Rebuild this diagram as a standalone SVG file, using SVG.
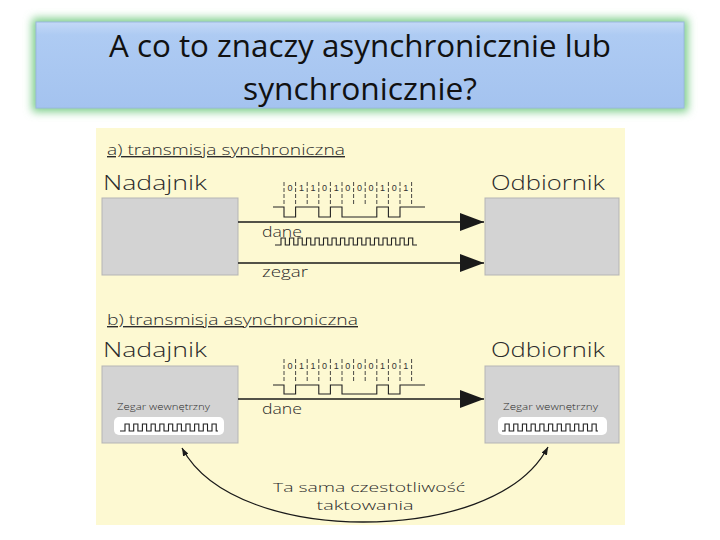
<svg xmlns="http://www.w3.org/2000/svg" width="720" height="540" viewBox="0 0 720 540">
<defs>
<linearGradient id="tg" x1="0" y1="0" x2="0" y2="1">
<stop offset="0" stop-color="#c4d9f7"/>
<stop offset="0.15" stop-color="#aecbf3"/>
<stop offset="1" stop-color="#a4c3ef"/>
</linearGradient>
<filter id="glow" x="-10%" y="-30%" width="120%" height="160%">
<feGaussianBlur stdDeviation="4"/>
</filter>
<marker id="big" viewBox="0 0 24 18" refX="24" refY="9" markerWidth="24" markerHeight="18" markerUnits="userSpaceOnUse" orient="auto">
<path d="M0,0 L24,9 L0,18 Z" fill="#1a1a1a"/>
</marker>
<marker id="small" viewBox="0 0 8 6" refX="8" refY="3" markerWidth="8" markerHeight="6" markerUnits="userSpaceOnUse" orient="auto-start-reverse">
<path d="M0,0 L8,3 L0,6 Z" fill="#1a1a1a"/>
</marker>
</defs>
<style>
.t{font-family:"Open Sans","DejaVu Sans",sans-serif;font-weight:300;fill:#2b2b2b}
.title{font-family:"Open Sans","Noto Sans",sans-serif;font-size:31px;fill:#111;text-anchor:middle}
.box{fill:#d3d3d3;stroke:#b5b5b5;stroke-width:1}
.wire{stroke:#1a1a1a;stroke-width:1.3;fill:none}
.wave{stroke:#222;stroke-width:1.1;fill:none}
.tick{stroke:#333;stroke-width:0.9;stroke-dasharray:4 2}
.bit{font-family:"Liberation Sans",Arial,sans-serif;font-size:9px;fill:#333;text-anchor:middle}
.clkbg{fill:#ffffff}
</style>
<rect width="720" height="540" fill="#ffffff"/>
<g id="title">
<rect x="32" y="18" width="656" height="94" rx="3" fill="#7fcf8c" filter="url(#glow)"/>
<rect x="36" y="22" width="648" height="86" fill="url(#tg)" stroke="#9ab8e0" stroke-width="1"/>
<text class="title" x="360" y="57" textLength="502" lengthAdjust="spacingAndGlyphs">A co to znaczy asynchronicznie lub</text>
<text class="title" x="360" y="100" textLength="234" lengthAdjust="spacingAndGlyphs">synchronicznie?</text>
</g>
<rect x="96" y="128" width="529" height="397" fill="#fdf9d2"/>
<g id="section-a">
<text class="t" x="107" y="155" font-size="14" text-decoration="underline" textLength="238" lengthAdjust="spacingAndGlyphs">a) transmisja synchroniczna</text>
</g>
<g id="nadajnik-a">
<text class="t" x="103" y="190" font-size="20" textLength="104" lengthAdjust="spacingAndGlyphs">Nadajnik</text>
<rect class="box" x="102" y="198" width="136" height="77"/>
</g>
<g id="odbiornik-a">
<text class="t" x="491" y="190" font-size="20" textLength="114" lengthAdjust="spacingAndGlyphs">Odbiornik</text>
<rect class="box" x="485" y="198" width="134" height="77"/>
</g>
<g id="section-b">
<text class="t" x="107" y="325" font-size="14" text-decoration="underline" textLength="251" lengthAdjust="spacingAndGlyphs">b) transmisja asynchroniczna</text>
</g>
<g id="nadajnik-b">
<text class="t" x="103" y="357" font-size="20" textLength="104" lengthAdjust="spacingAndGlyphs">Nadajnik</text>
<rect class="box" x="102" y="366" width="136" height="77"/>
<text class="t" x="117" y="410" font-size="9" textLength="93" lengthAdjust="spacingAndGlyphs">Zegar wewnętrzny</text>
<rect class="clkbg" x="114" y="417" width="110" height="18" rx="5"/>
<path class="wave" d="M120,431 H125 V424 H129.2 V431 H133.7 V424 H137.9 V431 H142.4 V424 H146.6 V431 H151.1 V424 H155.3 V431 H159.8 V424 H164 V431 H168.5 V424 H172.7 V431 H177.2 V424 H181.4 V431 H185.9 V424 H190.1 V431 H194.6 V424 H198.8 V431 H203.3 V424 H207.5 V431 H212 V424 H216.2 V431 H218"/>
</g>
<g id="odbiornik-b">
<text class="t" x="491" y="357" font-size="20" textLength="114" lengthAdjust="spacingAndGlyphs">Odbiornik</text>
<rect class="box" x="485" y="366" width="134" height="77"/>
<text class="t" x="503" y="410" font-size="9" textLength="95" lengthAdjust="spacingAndGlyphs">Zegar wewnętrzny</text>
<rect class="clkbg" x="498" y="417" width="109" height="18" rx="5"/>
<path class="wave" d="M502,431 H505 V424 H509.2 V431 H513.7 V424 H517.9 V431 H522.4 V424 H526.6 V431 H531.1 V424 H535.3 V431 H539.8 V424 H544 V431 H548.5 V424 H552.7 V431 H557.2 V424 H561.4 V431 H565.9 V424 H570.1 V431 H574.6 V424 H578.8 V431 H583.3 V424 H587.5 V431 H592 V424 H596.2 V431 H598"/>
</g>
<g id="signals">
<g id="data-a">
<line class="tick" x1="284" y1="182" x2="284" y2="205"/>
<line class="tick" x1="295.6" y1="182" x2="295.6" y2="205"/>
<line class="tick" x1="307.2" y1="182" x2="307.2" y2="205"/>
<line class="tick" x1="318.8" y1="182" x2="318.8" y2="205"/>
<line class="tick" x1="330.4" y1="182" x2="330.4" y2="205"/>
<line class="tick" x1="342" y1="182" x2="342" y2="205"/>
<line class="tick" x1="353.6" y1="182" x2="353.6" y2="205"/>
<line class="tick" x1="365.2" y1="182" x2="365.2" y2="205"/>
<line class="tick" x1="376.8" y1="182" x2="376.8" y2="205"/>
<line class="tick" x1="388.4" y1="182" x2="388.4" y2="205"/>
<line class="tick" x1="400" y1="182" x2="400" y2="205"/>
<line class="tick" x1="411.6" y1="182" x2="411.6" y2="205"/>
<text class="bit" x="290" y="191">0</text>
<text class="bit" x="301.4" y="191">1</text>
<text class="bit" x="313" y="191">1</text>
<text class="bit" x="324.6" y="191">0</text>
<text class="bit" x="336.2" y="191">1</text>
<text class="bit" x="347.8" y="191">0</text>
<text class="bit" x="359.4" y="191">0</text>
<text class="bit" x="371" y="191">0</text>
<text class="bit" x="382.6" y="191">1</text>
<text class="bit" x="394.2" y="191">0</text>
<text class="bit" x="405.8" y="191">1</text>
<path class="wave" d="M273,207 H284 V217 H295.6 V207 H318.8 V217 H330.4 V207 H342 V217 H376.8 V207 H388.4 V217 H400 V207 H425"/>
</g>
<path id="clock-a" class="wave" d="M275,245 H281 V238 H285.25 V245 H289.5 V238 H293.75 V245 H298 V238 H302.25 V245 H306.5 V238 H310.75 V245 H315 V238 H319.25 V245 H323.5 V238 H327.75 V245 H332 V238 H336.25 V245 H340.5 V238 H344.75 V245 H349 V238 H353.25 V245 H357.5 V238 H361.75 V245 H366 V238 H370.25 V245 H374.5 V238 H378.75 V245 H383 V238 H387.25 V245 H391.5 V238 H395.75 V245 H400 V238 H404.25 V245 H408.5 V238 H412.75 V245 H417"/>
<g id="data-b">
<line class="tick" x1="284" y1="359" x2="284" y2="383"/>
<line class="tick" x1="295.6" y1="359" x2="295.6" y2="383"/>
<line class="tick" x1="307.2" y1="359" x2="307.2" y2="383"/>
<line class="tick" x1="318.8" y1="359" x2="318.8" y2="383"/>
<line class="tick" x1="330.4" y1="359" x2="330.4" y2="383"/>
<line class="tick" x1="342" y1="359" x2="342" y2="383"/>
<line class="tick" x1="353.6" y1="359" x2="353.6" y2="383"/>
<line class="tick" x1="365.2" y1="359" x2="365.2" y2="383"/>
<line class="tick" x1="376.8" y1="359" x2="376.8" y2="383"/>
<line class="tick" x1="388.4" y1="359" x2="388.4" y2="383"/>
<line class="tick" x1="400" y1="359" x2="400" y2="383"/>
<line class="tick" x1="411.6" y1="359" x2="411.6" y2="383"/>
<text class="bit" x="290" y="369">0</text>
<text class="bit" x="301.4" y="369">1</text>
<text class="bit" x="313" y="369">1</text>
<text class="bit" x="324.6" y="369">0</text>
<text class="bit" x="336.2" y="369">1</text>
<text class="bit" x="347.8" y="369">0</text>
<text class="bit" x="359.4" y="369">0</text>
<text class="bit" x="371" y="369">0</text>
<text class="bit" x="382.6" y="369">1</text>
<text class="bit" x="394.2" y="369">0</text>
<text class="bit" x="405.8" y="369">1</text>
<path class="wave" d="M273,385 H284 V394 H295.6 V385 H318.8 V394 H330.4 V385 H342 V394 H376.8 V385 H388.4 V394 H400 V385 H425"/>
</g>
</g>
<g id="connectors">
<line class="wire" x1="238" y1="222" x2="484" y2="222" marker-end="url(#big)"/>
<line class="wire" x1="238" y1="263" x2="484" y2="263" marker-end="url(#big)"/>
<line class="wire" x1="238" y1="399" x2="484" y2="399" marker-end="url(#big)"/>
<path class="wire" stroke-width="1" d="M182,448 C210,500 290,522 363,522 C440,522 520,500 548,447" marker-start="url(#small)" marker-end="url(#small)"/>
</g>
<g id="labels">
<text class="t" x="262" y="237" font-size="15" textLength="40" lengthAdjust="spacingAndGlyphs">dane</text>
<text class="t" x="262" y="277" font-size="15" textLength="46" lengthAdjust="spacingAndGlyphs">zegar</text>
<text class="t" x="262" y="414" font-size="15" textLength="40" lengthAdjust="spacingAndGlyphs">dane</text>
<text class="t" x="369" y="492" font-size="13.5" text-anchor="middle" textLength="192" lengthAdjust="spacingAndGlyphs">Ta sama czestotliwość</text>
<text class="t" x="365" y="510" font-size="13.5" text-anchor="middle" textLength="97" lengthAdjust="spacingAndGlyphs">taktowania</text>
</g>
</svg>
